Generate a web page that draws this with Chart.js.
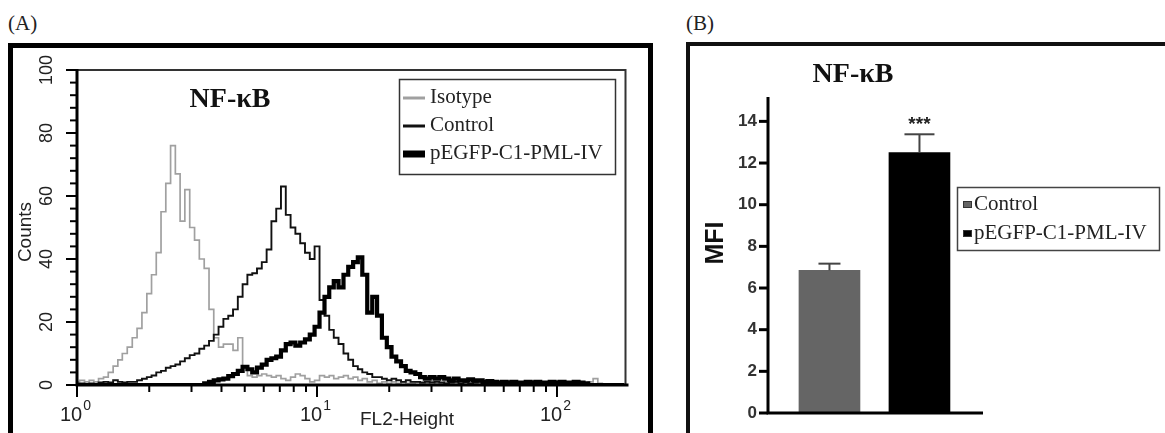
<!DOCTYPE html>
<html><head><meta charset="utf-8">
<script src="https://cdn.jsdelivr.net/npm/chart.js@4.4.1/dist/chart.umd.min.js"></script>
<style>
html,body{margin:0;padding:0;background:#fff;width:1165px;height:433px;overflow:hidden;position:relative;}
.frame{position:absolute;box-sizing:border-box;}
#frameA{left:8px;top:43px;width:645px;height:420px;border:5px solid #000;border-bottom:none;}
#frameB{left:686px;top:42px;width:500px;height:420px;border:4px solid #111;border-bottom:none;border-right:none;}
.lbl{position:absolute;font-family:'Liberation Serif',serif;font-size:21px;color:#222;line-height:1;}
canvas{position:absolute;left:0;top:0;}
</style></head>
<body>
<div id="frameA" class="frame"></div>
<div id="frameB" class="frame"></div>
<div class="lbl" style="left:8px;top:13px">(A)</div>
<div class="lbl" style="left:686px;top:13px">(B)</div>
<canvas id="cA" width="1165" height="433"></canvas>
<canvas id="cB" width="1165" height="433"></canvas>
<script>
// ---------- Panel A: flow cytometry histogram ----------
const fl2Channels = [1.00,1.05,1.10,1.15,1.20,1.26,1.32,1.38,1.45,1.51,
 1.58,1.66,1.74,1.82,1.91,2.00,2.09,2.19,2.29,2.40,
 2.51,2.63,2.75,2.88,3.02,3.16,3.31,3.47,3.63,3.80,
 3.98,4.17,4.37,4.57,4.79,5.01,5.25,5.50,5.75,6.03,
 6.31,6.61,6.92,7.24,7.59,7.94,8.32,8.71,9.12,9.55,
 10.0,10.5,11.0,11.5,12.0,12.6,13.2,13.8,14.5,15.1,
 15.8,16.6,17.4,18.2,19.1,20.0,20.9,21.9,22.9,24.0,
 25.1,26.3,27.5,28.8,30.2,31.6,33.1,34.7,36.3,38.0,
 39.8,41.7,43.7,45.7,47.9,50.1,52.5,55.0,57.5,60.3,
 63.1,66.1,69.2,72.4,75.9,79.4,83.2,87.1,91.2,95.5,
 100,105,110,115,120,126,132,138,145,151,
 158,166,174,182,191];

const isotypeCounts = [1,1.5,1,1.5,1,2,2.5,4,6,8,
 10,12,15,18,23,29,35,42,55,64,
 76,67,52,62,50,46,40,37,24,15,
 12,13,13,11,15,6,3,2.5,3,3.5,
 3,2.5,3,2,1.5,2.5,3.5,3,2,1,
 1.5,3,2.5,3,2,2.5,3,2,2.5,1.5,
 2,1,1.5,0.5,1,0.5,1,0.5,1,0.5,
 0.5,1,0.5,0.5,1,0.5,0.5,1,0.5,0.5,
 0.5,1,0.5,0.5,0.5,1,0.5,0.5,0.5,0.5,
 1,0.5,0.5,0.5,0.5,0.5,1,0.5,0.5,0.5,
 0.5,0.5,0.5,0.5,0.5,0.5,0.5,1,2,0.5,
 0,0,0,0,0];

const controlCounts = [0.5,0.5,0.3,0.5,0.3,0.8,1,0.8,1.5,1,
 0.8,1,1,1.5,2,2.5,3,4,4.5,5.5,
 6,6.5,7.5,8.5,9.5,10,11.5,12.5,14,16,
 18.5,21,22,24,28,32,35,35.5,37,39,
 43,52,56,63,54,50,48,45,42,40,
 44,27,22,17.5,15,13,10,8,6,5,
 4,3.5,2.5,2.5,2,1.5,2,1.5,1,1.5,
 1,1,0.8,1,0.8,1,0.8,0.5,0.8,1,
 0.5,0.8,0.5,0.8,1,0.5,0.5,0.8,0.5,0.5,
 0.8,0.5,0.5,0.8,0.5,0.5,0.8,0.5,0.5,0.5,
 0.8,0.5,0.5,0.8,0.5,0.5,0,0,0,0,
 0,0,0,0,0];

const pmlCounts = [0,0,0,0,0,0,0,0,0,0,
 0,0,0,0,0,0,0,0,0,0,
 0,0,0,0,0,0,0,0.5,1,1.5,
 1.8,2,2.8,3.5,4.5,5.8,5,4,5.5,6.5,
 8,8.5,9,11,13,13.5,12.5,13.5,14.5,16,
 18.5,23,28,31,33,31,35,37.5,39,40.5,
 35,23,28,22,15,12,9,7.5,6,4.5,
 4,3.5,2.5,2,2.5,2,2.5,2,1.5,2,
 1.5,1.5,1.8,1.5,1.5,1,1.2,1,0.8,1,
 0.8,1,0.8,0.8,1,0.8,1,0.8,0.8,1,
 0.8,1,0.8,0.8,1,0.8,0.5,0,0,0,
 0,0,0,0,0];

const seriesLabelsA = ['Isotype','Control','pEGFP-C1-PML-IV'];
const yTicksA = [0,20,40,60,80,100];
const yMinorTicksA = [4,8,12,16,24,28,32,36,44,48,52,56,64,68,72,76,84,88,92,96];
const xMajorTicksA = [1,10,100];
const xTickExponentsA = ['0','1','2'];
const xMinorTicksA = [2,3,4,5,6,7,8,9,20,30,40,50,60,70,80,90];

// ---------- Panel B: MFI bar chart ----------
const groupsB = ['Control','pEGFP-C1-PML-IV'];
const mfiB = [6.85, 12.5];
const sdB = [0.32, 0.88];
const yTicksB = [0,2,4,6,8,10,12,14];
const signifB = ['', '***'];

function pts(counts){ return fl2Channels.map((x,i)=>({x:x, y:counts[i]})); }
function seg(ctx,x1,y1,x2,y2){ ctx.beginPath(); ctx.moveTo(x1,y1); ctx.lineTo(x2,y2); ctx.stroke(); }

const lineStylesA = [
  {color:'#a0a0a0', width:1.7},
  {color:'#111', width:1.9},
  {color:'#000', width:4.2}
];
const legendWidthsA = [3,3,7];

const decorA = {
  id:'decorA',
  afterDatasetsDraw(chart){
    const {ctx, chartArea:a, scales:{x,y}} = chart;
    ctx.save();
    // plot box top/right
    ctx.strokeStyle='#333'; ctx.lineWidth=2;
    ctx.beginPath(); ctx.moveTo(a.left,a.top); ctx.lineTo(a.right,a.top); ctx.lineTo(a.right,a.bottom); ctx.stroke();
    // axis lines
    ctx.strokeStyle='#000'; ctx.lineWidth=3;
    ctx.beginPath(); ctx.moveTo(a.left,a.top-1); ctx.lineTo(a.left,a.bottom); ctx.lineTo(a.right+3,a.bottom); ctx.stroke();
    // y ticks
    ctx.lineWidth=2;
    yTicksA.forEach(v=>{const p=y.getPixelForValue(v); seg(ctx,a.left-11,p,a.left,p);});
    yMinorTicksA.forEach(v=>{const p=y.getPixelForValue(v); seg(ctx,a.left-7,p,a.left,p);});
    // x ticks
    xMajorTicksA.forEach(v=>{const p=x.getPixelForValue(v); seg(ctx,p,a.bottom,p,a.bottom+12);});
    xMinorTicksA.forEach(v=>{const p=x.getPixelForValue(v); seg(ctx,p,a.bottom,p,a.bottom+7);});
    // y labels (rotated)
    ctx.fillStyle='#222'; ctx.font='18px "Liberation Sans", Arial, sans-serif';
    ctx.textAlign='center'; ctx.textBaseline='middle';
    yTicksA.forEach(v=>{
      const p=y.getPixelForValue(v);
      ctx.save(); ctx.translate(a.left-30,p); ctx.rotate(-Math.PI/2); ctx.fillText(String(v),0,0); ctx.restore();
    });
    // x labels 10^n
    xMajorTicksA.forEach((v,i)=>{
      const p=x.getPixelForValue(v);
      ctx.font='20px "Liberation Sans", Arial, sans-serif';
      const w1=ctx.measureText('10').width;
      ctx.font='14px "Liberation Sans", Arial, sans-serif';
      const w2=ctx.measureText(xTickExponentsA[i]).width;
      const x0=p-2-(w1+w2)/2;
      ctx.textAlign='left'; ctx.textBaseline='alphabetic';
      ctx.font='20px "Liberation Sans", Arial, sans-serif';
      ctx.fillText('10',x0,a.bottom+36);
      ctx.font='14px "Liberation Sans", Arial, sans-serif';
      ctx.fillText(xTickExponentsA[i],x0+w1+1,a.bottom+25);
    });
    // axis titles
    ctx.fillStyle='#222';
    ctx.font='19px "Liberation Sans", Arial, sans-serif';
    ctx.textAlign='center'; ctx.textBaseline='middle';
    ctx.fillText('FL2-Height',407,a.bottom+35);
    ctx.save(); ctx.translate(26,232); ctx.rotate(-Math.PI/2); ctx.fillText('Counts',0,0); ctx.restore();
    // title
    ctx.fillStyle='#111';
    ctx.font='bold 28px "Liberation Serif", "Times New Roman", serif';
    ctx.textBaseline='alphabetic';
    ctx.fillText('NF-\u03BAB',230,107);
    // legend
    ctx.strokeStyle='#333'; ctx.lineWidth=1.5;
    ctx.strokeRect(399.5,79.5,216,95);
    const ys=[97,125,153];
    ctx.font='21px "Liberation Serif", "Times New Roman", serif';
    ctx.textAlign='left'; ctx.textBaseline='middle';
    chart.data.datasets.forEach((ds,i)=>{
      ctx.strokeStyle=ds.borderColor; ctx.lineWidth=legendWidthsA[i];
      seg(ctx,403,ys[i]+1,425,ys[i]+1);
      ctx.fillStyle='#222';
      ctx.fillText(ds.label,430,ys[i]);
    });
    ctx.restore();
  }
};

new Chart(document.getElementById('cA'), {
  type:'line',
  data:{ datasets: seriesLabelsA.map((lab,i)=>({
    label:lab,
    data: pts([isotypeCounts,controlCounts,pmlCounts][i]),
    borderColor: lineStylesA[i].color,
    borderWidth: lineStylesA[i].width,
    stepped:'middle', pointRadius:0, fill:false,
    order: 3-i
  }))},
  options:{
    responsive:false, animation:false, events:[],
    layout:{padding:{left:67, right:1165-625.5, top:70, bottom:433-385-10}},
    plugins:{legend:{display:false}, title:{display:false}, tooltip:{enabled:false}},
    scales:{
      x:{type:'logarithmic', min:1, max:193, ticks:{display:false}, grid:{display:false}, border:{display:false}, afterFit(s){s.height=10;}},
      y:{type:'linear', min:0, max:100, ticks:{display:false}, grid:{display:false}, border:{display:false}, afterFit(s){s.width=10;}}
    }
  },
  plugins:[decorA]
});

// ---------- Panel B chart ----------
const barColorsB = ['#656565','#000000'];
const capWidthsB = [22,30];

const decorB = {
  id:'decorB',
  afterDatasetsDraw(chart){
    const {ctx, chartArea:a, scales:{x,y}} = chart;
    const meta = chart.getDatasetMeta(0);
    ctx.save();
    // error bars
    ctx.strokeStyle='#444'; ctx.lineWidth=2;
    meta.data.forEach((bar,i)=>{
      const cx=bar.x, top=y.getPixelForValue(mfiB[i]), hi=y.getPixelForValue(mfiB[i]+sdB[i]);
      seg(ctx,cx,top,cx,hi);
      seg(ctx,cx-capWidthsB[i]/2,hi,cx+capWidthsB[i]/2,hi);
      if(signifB[i]){
        ctx.fillStyle='#222'; ctx.font='bold 19px "Liberation Sans", Arial, sans-serif';
        ctx.textAlign='center'; ctx.textBaseline='middle';
        ctx.fillText(signifB[i],cx,hi-10);
      }
    });
    // axes
    ctx.strokeStyle='#000'; ctx.lineWidth=3;
    ctx.beginPath(); ctx.moveTo(a.left,a.top); ctx.lineTo(a.left,a.bottom); ctx.lineTo(a.right,a.bottom); ctx.stroke();
    yTicksB.forEach(v=>{const p=y.getPixelForValue(v); seg(ctx,a.left-9,p,a.left,p);});
    ctx.fillStyle='#333'; ctx.font='bold 17px "Liberation Sans", Arial, sans-serif';
    ctx.textAlign='right'; ctx.textBaseline='middle';
    yTicksB.forEach(v=>{const p=y.getPixelForValue(v); ctx.fillText(String(v),a.left-11,p);});
    // MFI title
    ctx.font='bold 25px "Liberation Sans", Arial, sans-serif';
    ctx.fillStyle='#111'; ctx.textAlign='center';
    ctx.save(); ctx.translate(716,243); ctx.rotate(-Math.PI/2); ctx.fillText('MFI',0,0); ctx.restore();
    // title
    ctx.font='bold 28px "Liberation Serif", "Times New Roman", serif';
    ctx.textBaseline='alphabetic';
    ctx.fillText('NF-\u03BAB',853,82);
    // legend
    ctx.strokeStyle='#444'; ctx.lineWidth=1.5;
    ctx.strokeRect(957.5,187.5,202,63);
    const ys=[204,233];
    ctx.font='21px "Liberation Serif", "Times New Roman", serif';
    ctx.textAlign='left'; ctx.textBaseline='middle';
    groupsB.forEach((g,i)=>{
      ctx.fillStyle=barColorsB[i]; ctx.fillRect(963,ys[i]-3,9,7);
      ctx.strokeStyle='#333'; ctx.lineWidth=1; ctx.strokeRect(963.5,ys[i]-2.5,8,6);
      ctx.fillStyle='#222'; ctx.fillText(g,974,ys[i]);
    });
    ctx.restore();
  }
};

new Chart(document.getElementById('cB'), {
  type:'bar',
  data:{ datasets:[{
    label:'MFI',
    data: groupsB.map((g,i)=>({x:i+1, y:mfiB[i]})),
    backgroundColor: barColorsB,
    borderWidth:0,
    barThickness:61
  }]},
  options:{
    responsive:false, animation:false, events:[],
    layout:{padding:{left:758, right:1165-983, top:97, bottom:433-413-10}},
    plugins:{legend:{display:false}, title:{display:false}, tooltip:{enabled:false}},
    scales:{
      x:{type:'linear', offset:false, min:0.317, max:2.706, ticks:{display:false}, grid:{display:false}, border:{display:false}, afterFit(s){s.height=10;}},
      y:{type:'linear', min:0, max:15.17, ticks:{display:false}, grid:{display:false}, border:{display:false}, afterFit(s){s.width=10;}}
    }
  },
  plugins:[decorB]
});
</script>
</body></html>
